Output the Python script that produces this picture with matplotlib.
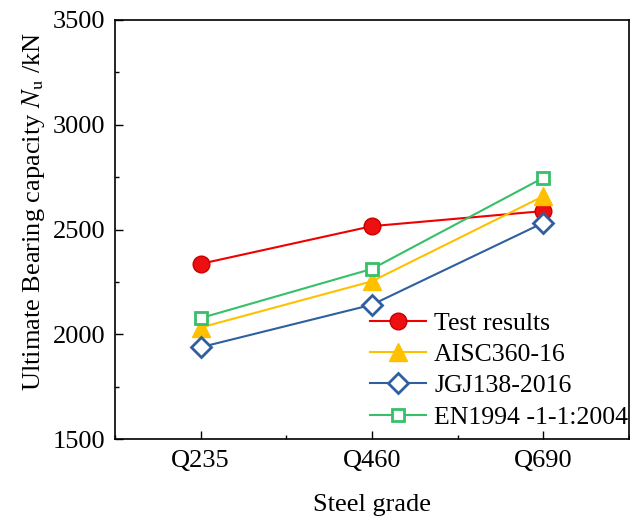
import matplotlib
matplotlib.use('Agg')
import matplotlib.pyplot as plt
from matplotlib.ticker import MultipleLocator

plt.rcParams['font.family'] = ['Liberation Serif', 'DejaVu Serif']
plt.rcParams['mathtext.fontset'] = 'stix'

grades = ['Q235', 'Q460', 'Q690']
test = [2336, 2516, 2588]
aisc = [2032, 2253, 2659]
jgj = [1938, 2141, 2532]
en1994 = [2077, 2312, 2747]

x = [1, 2, 3]
fig = plt.figure(figsize=(6.3, 5.28), dpi=100)
ax = fig.add_axes([115 / 630, 1 - 439 / 528, 514 / 630, 419 / 528])

ax.plot(x, test, color='#F00000', lw=1.5, marker='o', ms=12,
        mfc='#EE1010', mec='#C80000', label='Test results')
ax.plot(x, aisc, color='#FFC000', lw=1.5, marker='^', ms=13.5,
        mfc='#FFC000', mec='#FFC000', label='AISC360-16')
ax.plot(x, jgj, color='#2F5F9F', lw=1.5, marker='D', ms=10,
        mfc='white', mec='#2F5F9F', mew=2, label='JGJ138-2016')
ax.plot(x, en1994, color='#36C068', lw=1.5, marker='s', ms=8.5,
        mfc='white', mec='#36C068', mew=2, label='EN1994 -1-1:2004')

ax.set_xlim(0.5, 3.5)
ax.set_ylim(1500, 3500)
ax.set_xticks(x)
ax.set_xticklabels(grades)
ax.xaxis.set_minor_locator(MultipleLocator(0.5))
ax.yaxis.set_major_locator(MultipleLocator(500))
ax.yaxis.set_minor_locator(MultipleLocator(250))
ax.tick_params(which='both', direction='in', labelsize=19, top=False, right=False)
ax.tick_params(which='major', length=5.5, width=1)
ax.tick_params(which='minor', length=3, width=1)
ax.tick_params(axis='x', pad=8)
ax.tick_params(axis='y', pad=7)
for s in ax.spines.values():
    s.set_linewidth(1.2)

ax.set_xlabel('Steel grade', fontsize=19, labelpad=16)
ax.set_ylabel(r'Ultimate Bearing capacity $\mathit{N}_\mathrm{u}$ /kN', fontsize=19)
ax.yaxis.set_label_coords(-0.132, 0.542)

ax.legend(loc='lower left', bbox_to_anchor=(0.496, 0.025), frameon=False, fontsize=18.5,
          handlelength=2.2, handletextpad=0.3, labelspacing=0.32, borderaxespad=0,
          borderpad=0)

fig.savefig('out.png', dpi=100)
